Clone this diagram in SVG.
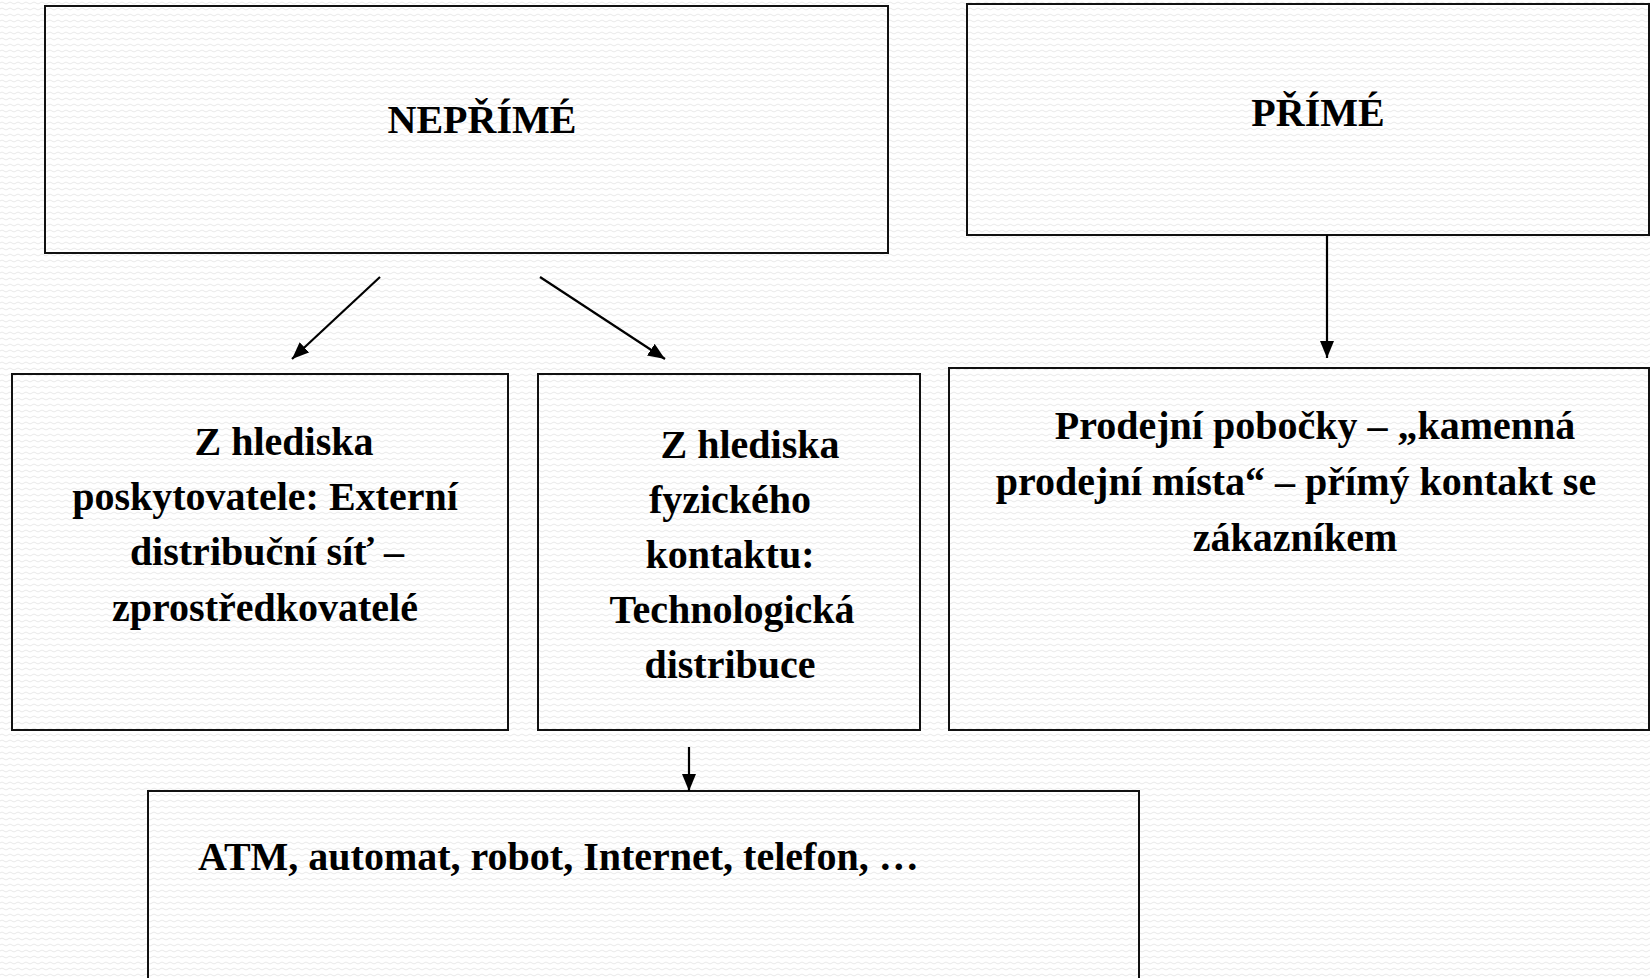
<svg xmlns="http://www.w3.org/2000/svg" width="1650" height="978" viewBox="0 0 1650 978">
<style>
.box{fill:none;stroke:#111;stroke-width:2}
.t{font-family:"Liberation Serif","Times New Roman",serif;font-weight:bold;font-size:40px;fill:#000}
.c{text-anchor:middle}
.con{stroke:#000;stroke-width:2.2;fill:none}
</style>
<defs>
<pattern id="bg" width="8" height="6" patternUnits="userSpaceOnUse">
<path d="M0 3 Q2 1 4 3 T8 3" fill="none" stroke="#e9e9e9" stroke-width="1"/>
</pattern>
<marker id="ah" markerUnits="userSpaceOnUse" markerWidth="18" markerHeight="14" refX="17" refY="7" orient="auto">
<path d="M0 0 L17 7 L0 14 Z" fill="#000"/>
</marker>
</defs>
<rect width="1650" height="978" fill="#fff"/>
<rect width="1650" height="978" fill="url(#bg)"/>

<g id="neprime">
<rect class="box" x="45" y="6" width="843" height="247"/>
<text class="t c" x="482" y="133">NEPŘÍMÉ</text>
</g>
<g id="prime">
<rect class="box" x="967" y="4" width="682" height="231"/>
<text class="t c" x="1318" y="126">PŘÍMÉ</text>
</g>
<g id="poskytovatel">
<rect class="box" x="12" y="374" width="496" height="356"/>
<text class="t c" x="284" y="455">Z hlediska</text>
<text class="t c" x="265" y="510">poskytovatele: Externí</text>
<text class="t c" x="267" y="565">distribuční síť –</text>
<text class="t c" x="265" y="621">zprostředkovatelé</text>
</g>
<g id="fyzicky">
<rect class="box" x="538" y="374" width="382" height="356"/>
<text class="t c" x="750" y="458">Z hlediska</text>
<text class="t c" x="730" y="513">fyzického</text>
<text class="t c" x="730" y="568">kontaktu:</text>
<text class="t c" x="732" y="623">Technologická</text>
<text class="t c" x="730" y="678">distribuce</text>
</g>
<g id="pobocky">
<rect class="box" x="949" y="368" width="700" height="362"/>
<text class="t c" x="1315" y="439">Prodejní pobočky – „kamenná</text>
<text class="t c" x="1296" y="495">prodejní místa“ – přímý kontakt se</text>
<text class="t c" x="1295" y="551">zákazníkem</text>
</g>
<g id="technologie">
<rect class="box" x="148" y="791" width="991" height="200"/>
<text class="t" x="198" y="870">ATM, automat, robot, Internet, telefon, …</text>
</g>
<g id="connectors">
<line class="con" x1="380" y1="277" x2="292" y2="359" marker-end="url(#ah)"/>
<line class="con" x1="540" y1="277" x2="665" y2="359" marker-end="url(#ah)"/>
<line class="con" x1="1327" y1="235" x2="1327" y2="358" marker-end="url(#ah)"/>
<line class="con" x1="689" y1="747" x2="689" y2="791" marker-end="url(#ah)"/>
</g>
</svg>
